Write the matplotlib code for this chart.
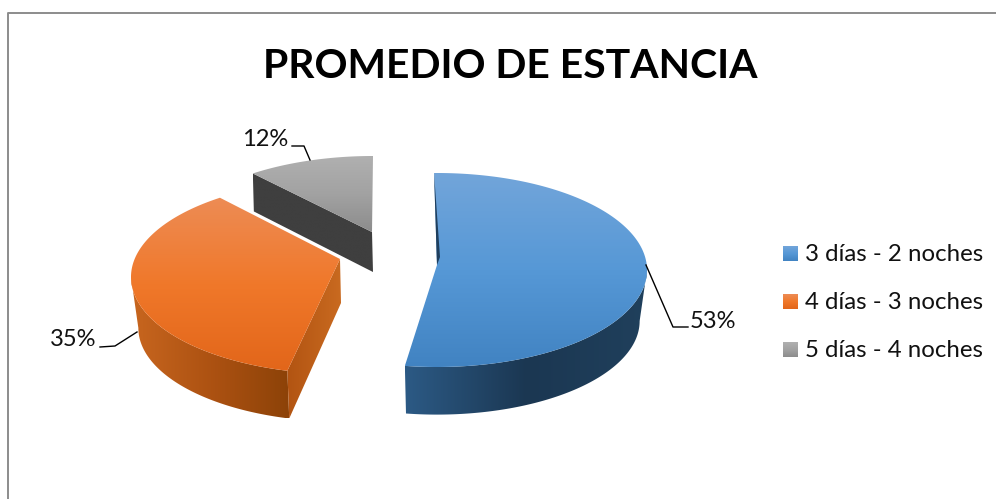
import numpy as np
import matplotlib
matplotlib.use("Agg")
import matplotlib.pyplot as plt
from matplotlib.colors import LinearSegmentedColormap
from matplotlib.patches import Polygon

title = "PROMEDIO DE ESTANCIA"
categories = ["3 días - 2 noches", "4 días - 3 noches", "5 días - 4 noches"]
values = [53, 35, 12]

face_colors = [["#72a5da", "#5698d6", "#4183c2"],
               ["#ed8c55", "#f0782a", "#e2661a"],
               ["#b0b0b0", "#a2a2a2", "#8c8c8c"]]
side_colors = [["#2c5a85", "#1b3752", "#20405c"],
               ["#c8661f", "#ad5212", "#8c4208"],
               ["#3f3f3f", "#3f3f3f", "#3f3f3f"]]

plt.rcParams["font.family"] = ["Lato", "DejaVu Sans"]

RX, RY = 210, 97
SHRINK = 0.965  # lower rim looks smaller, perspective
DEPTH = 51
ellipse_centers = [(437, 270), (341, 277), (373, 253)]
apexes = [(437, 265), (340, 259), (372, 232)]
apex_depths = [48, 44, 40]
# how far the tilted view moves each slice's edges, degrees
view_shift = [(-0.8, -2), (4, 8), (8.3, 0)]


def rim(center, angles, scale=1.0, dy=0):
    a = np.radians(angles)
    x = center[0] + RX * scale * np.sin(a)
    y = center[1] + dy - RY * scale * np.cos(a)
    return np.column_stack([x, y])


def grad_fill(ax, pts, colors, vertical=True, zorder=2):
    cmap = LinearSegmentedColormap.from_list("g", colors)
    x0, y0 = pts.min(axis=0)
    x1, y1 = pts.max(axis=0)
    g = np.linspace(0, 1, 256)
    g = g.reshape(-1, 1) if vertical else g.reshape(1, -1)
    im = ax.imshow(g, cmap=cmap, extent=(x0, x1, y1, y0), origin="upper",
                   aspect="auto", zorder=zorder, interpolation="bilinear")
    clip = Polygon(pts, closed=True, transform=ax.transData)
    im.set_clip_path(clip)


fig = plt.figure(figsize=(9.96, 4.99), dpi=100)
ax = fig.add_axes([0, 0, 1, 1])
ax.set_xlim(0, 996)
ax.set_ylim(499, 0)
ax.set_autoscale_on(False)
ax.axis("off")

# chart frame, only top and left show in the crop
ax.plot([8, 8, 996], [499, 13, 13], color="#8c8c8c", lw=1.4, zorder=1)

ax.text(510, 66, title, ha="center", va="center", fontsize=29.4,
        fontweight="bold", color="black")

edges = np.cumsum([0] + values) / sum(values) * 360
draw_order = [2, 1, 0]
for n, i in enumerate(draw_order):
    start = edges[i] + view_shift[i][0]
    end = edges[i + 1] + view_shift[i][1]
    c = ellipse_centers[i]
    apex = np.array(apexes[i], dtype=float)
    apex_low = apex + [1, apex_depths[i]]
    z = 2 + n * 3

    # outer wall, only the part that faces the viewer
    lo, hi = max(start, 90), min(end, 270)
    if hi > lo:
        t = np.linspace(lo, hi, 120)
        wall = np.vstack([rim(c, t), rim(c, t[::-1], SHRINK, DEPTH)])
        grad_fill(ax, wall, side_colors[i], vertical=False, zorder=z)

    # cut wall
    if i == 1:
        cut_top = rim(c, [start])[0]
        cut_low = rim(c, [start], SHRINK, DEPTH)[0]
        cut = np.array([apex, apex_low, cut_low, cut_top])
        grad_fill(ax, cut, ["#b25412", "#c96a20"], vertical=False, zorder=z)
    if i == 2:
        cut_top = rim(c, [start])[0]
        cut = np.array([apex, apex_low, cut_top + [1, 38], cut_top])
        grad_fill(ax, cut, side_colors[i], vertical=False, zorder=z)

    # top face
    t = np.linspace(start, end, 240)
    face = np.vstack([apex, rim(c, t)])
    grad_fill(ax, face, face_colors[i], zorder=z + 1)

    # small inner wall seen behind the big slice
    if i == 0:
        top = rim(c, [start])[0]
        sliver = [top, apex + [-0.3, -8], apex, apex + [3, -8]]
        ax.add_patch(Polygon(sliver, closed=True, fc="#1f3f5e", ec="none",
                             zorder=z + 2))

# leader lines and percent labels
leaders = [([646, 673, 688], [265, 327, 327]),
           ([137, 115, 100], [332, 346, 347]),
           ([310, 304, 292], [160, 146, 146])]
label_pos = [(713, 322), (73, 340), (265, 140)]
for v, (lx, ly), (tx, ty) in zip(values, leaders, label_pos):
    ax.plot(lx, ly, color="black", lw=1.0, zorder=20)
    ax.text(tx, ty, f"{v}%", ha="center", va="center", fontsize=17,
            color="#111111", zorder=21)

# legend
for i, name in enumerate(categories):
    y = 253.5 + i * 48
    sq = np.array([[783, y - 7.5], [798, y - 7.5], [798, y + 7.5], [783, y + 7.5]])
    grad_fill(ax, sq, face_colors[i], zorder=20)
    ax.text(805, y + 1, name, ha="left", va="center", fontsize=17.3,
            color="#111111", zorder=21)

fig.savefig("out.png", dpi=100)
